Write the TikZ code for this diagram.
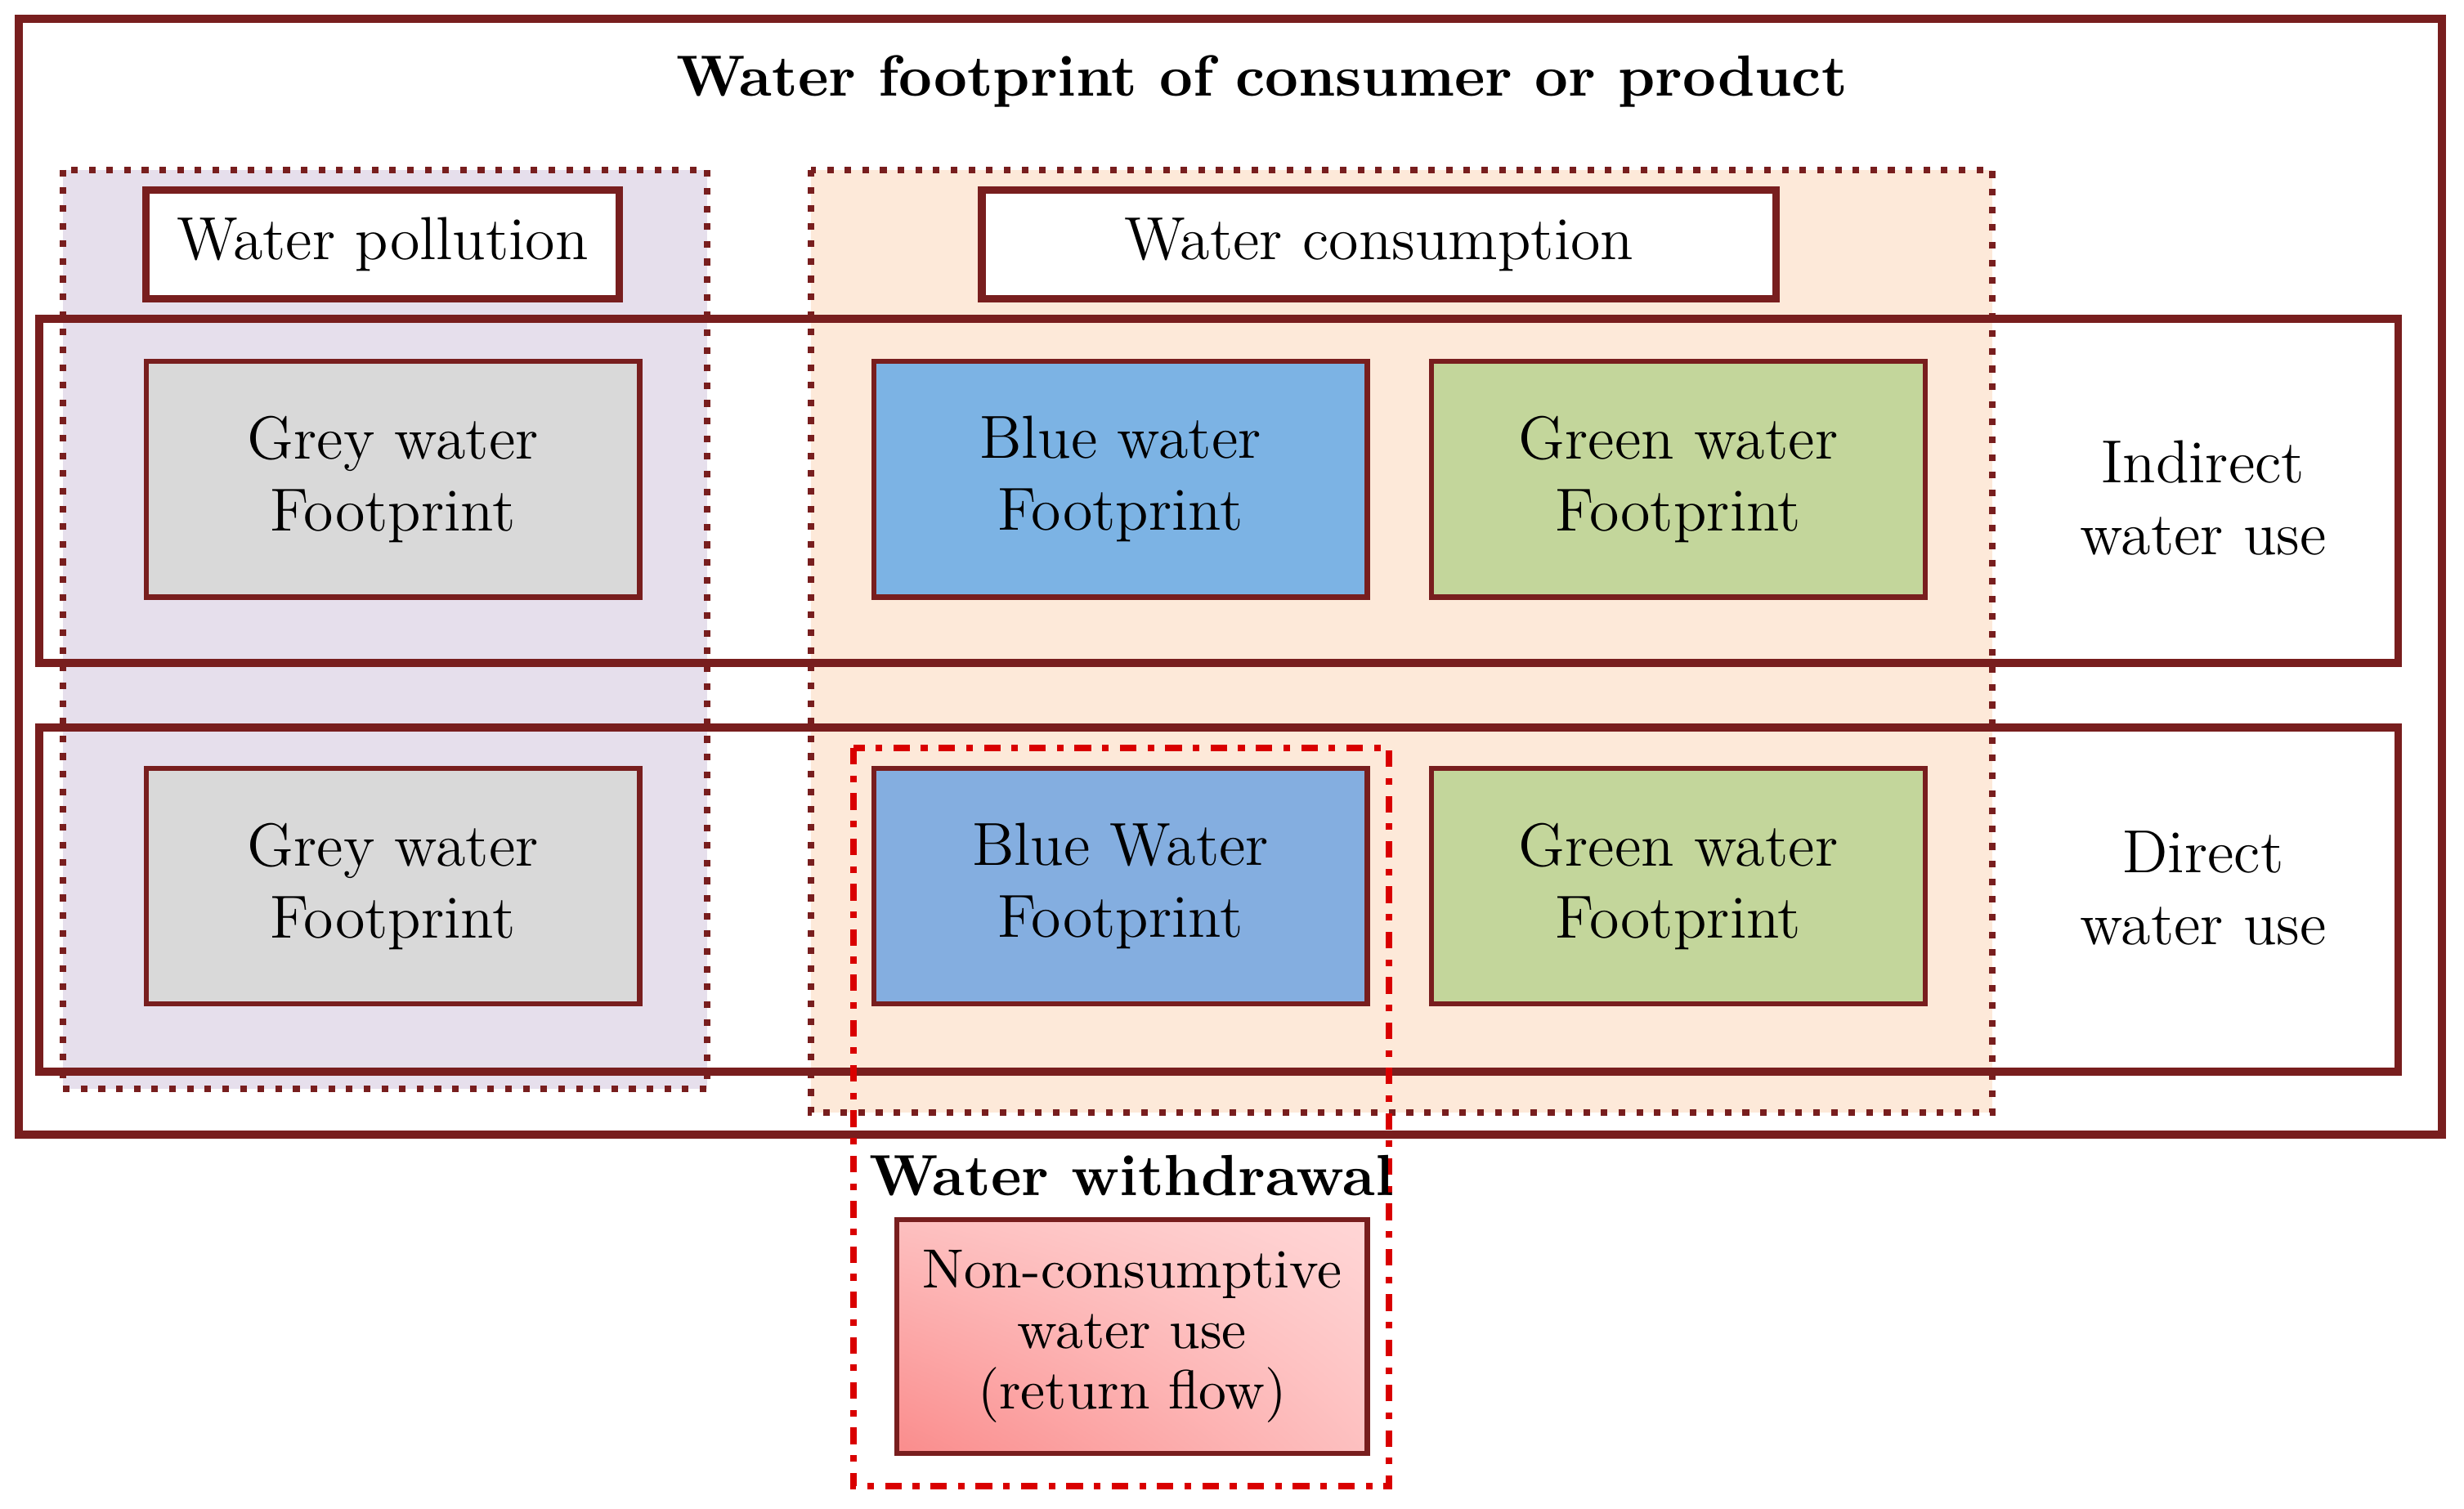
\documentclass[tikz,border=0pt]{standalone}
\usetikzlibrary{calc,shadings}
\definecolor{frame}{RGB}{120,30,30}
\definecolor{lav}{RGB}{230,223,236}
\definecolor{peach}{RGB}{253,233,217}
\definecolor{greyf}{RGB}{217,217,217}
\definecolor{blue1}{RGB}{124,179,228}
\definecolor{blue2}{RGB}{132,174,224}
\definecolor{greenf}{RGB}{195,214,155}
\definecolor{pinkA}{RGB}{255,214,214}
\definecolor{pinkB}{RGB}{250,140,140}
\begin{document}
\begin{tikzpicture}[x=0.01cm,y=-0.01cm,
  txt/.style={font=\fontsize{11}{13}\selectfont, align=center},
  head/.style={draw=frame, line width=1.4pt, fill=white, txt, inner sep=0pt},
  fp/.style={draw=frame, line width=0.9pt, txt, inner sep=0pt},
  row/.style={draw=frame, line width=1.4pt},
  region/.style={draw=frame, line width=1.2pt, dotted}]
\useasboundingbox (0,0) rectangle (1568,960);
% regions
\fill[lav] (40,108) rectangle (450,693);
\fill[peach] (516,108) rectangle (1268,708);
% outer frame and title
\draw[row] (12,12) rectangle (1554,722);
\node[font=\bfseries\fontsize{10.5}{13}\selectfont] (title) at (803,52) {Water footprint of consumer or product};
% rows
\draw[row] (25,203) rectangle (1526,422);
\draw[row] (25,463) rectangle (1526,682);
\draw[region] (40,108) rectangle (450,693);
\draw[region] (516,108) rectangle (1268,708);
% headers
\node[head, minimum width=3.01cm, minimum height=0.69cm] (poll) at (243.5,155.5) {Water pollution};
\node[head, minimum width=5.05cm, minimum height=0.69cm] (cons) at (877.5,155.5) {Water consumption};
% footprints
\tikzset{fpsize/.style={fp, minimum width=3.14cm, minimum height=1.5cm}}
\node[fpsize, fill=greyf] (g1) at (250,305) {Grey water\\Footprint};
\node[fpsize, fill=blue1] (b1) at (713,305) {Blue water\\Footprint};
\node[fpsize, fill=greenf] (gr1) at (1068,305) {Green water\\Footprint};
\node[fpsize, fill=greyf] (g2) at (250,564) {Grey water\\Footprint};
\node[fpsize, fill=blue2] (b2) at (713,564) {Blue Water\\Footprint};
\node[fpsize, fill=greenf] (gr2) at (1068,564) {Green water\\Footprint};
\node[txt] (ind) at (1402,317) {Indirect\\water use};
\node[txt] (dir) at (1402,565) {Direct\\water use};
% withdrawal
\draw[red!85!black, line width=1.2pt, dash dot] (543,476) rectangle (884,946);
\node[font=\bfseries\fontsize{10.5}{13}\selectfont] (wd) at (720,748) {Water withdrawal};
\shade[lower left=pinkB, upper right=pinkA, lower right=pinkA!70!pinkB, upper left=pinkA!70!pinkB] (571,776) rectangle (870,925);
\node[fp, minimum width=2.99cm, minimum height=1.49cm, font=\fontsize{10}{11}\selectfont] (nc) at (720.5,850.5) {Non-consumptive\\water use\\(return flow)};
\end{tikzpicture}
\end{document}
